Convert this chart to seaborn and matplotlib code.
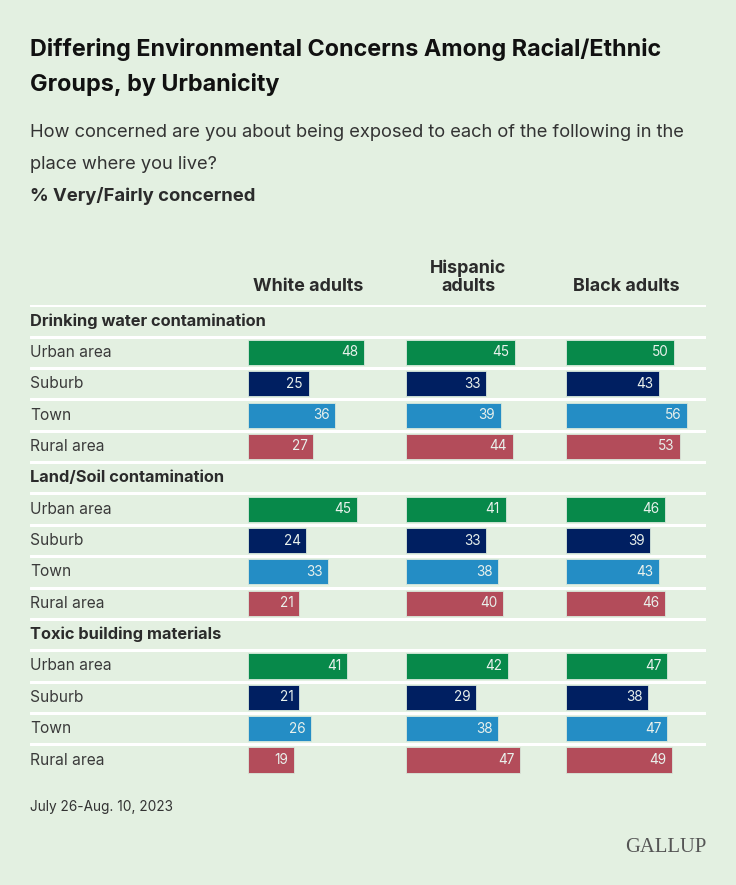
import matplotlib.pyplot as plt
import pandas as pd
import seaborn as sns

# Data
groups = ["White adults", "Hispanic\nadults", "Black adults"]
topics = ["Drinking water contamination", "Land/Soil contamination", "Toxic building materials"]
areas = ["Urban area", "Suburb", "Town", "Rural area"]

# values listed topic by topic, in area order
white = [48, 25, 36, 27, 45, 24, 33, 21, 41, 21, 26, 19]
hispanic = [45, 33, 39, 44, 41, 33, 38, 40, 42, 29, 38, 47]
black = [50, 43, 56, 53, 46, 39, 43, 46, 47, 38, 47, 49]

BG = "#e3f0e1"
palette = {"Urban area": "#07894a", "Suburb": "#001f61", "Town": "#248dc5", "Rural area": "#b34c5a"}

W, H = 736, 885


def fx(x):
    return x / W


def fy(y):
    return 1 - y / H


# row order: a header row for each topic, then its four areas
order = []
records = []
for t_i, topic in enumerate(topics):
    order.append(topic)
    for a_i, area in enumerate(areas):
        key = f"{topic}|{area}"
        order.append(key)
        k = t_i * 4 + a_i
        for grp, vals in zip(groups, [white, hispanic, black]):
            records.append({"row": key, "area": area, "group": grp, "value": vals[k]})
df = pd.DataFrame(records)

sns.set_style("white")
plt.rcParams["font.family"] = ["Inter", "DejaVu Sans"]

fig = plt.figure(figsize=(W / 100, H / 100), dpi=100, facecolor=BG)

n_rows = len(order)
row_h = 31.36
top_px = 321 - row_h / 2
bot_px = top_px + n_rows * row_h
ax_bottom = fy(bot_px)
ax_height = (bot_px - top_px) / H

# background axis: separators, row labels
bg = fig.add_axes([fx(30), ax_bottom, fx(676), ax_height])
bg.set_xlim(0, 1)
bg.set_ylim(n_rows - 0.5, -0.5)
bg.axis("off")
for i in range(n_rows):
    bg.axhline(i - 0.5, color="white", lw=2.2, zorder=0)
for i, key in enumerate(order):
    if key in topics:
        bg.text(0, i, key, ha="left", va="center", fontsize=11.8, fontweight="bold", color="#2b2b2b")
    else:
        bg.text(0, i, key.split("|")[1], ha="left", va="center", fontsize=11.2, color="#3a3a3a")

# one bar axis per group
lefts = [248.3, 406.3, 565.7]
scales = [2.41, 2.42, 2.16]  # px per percentage point
centers = [308.5, 468, 626]
col_w = 130
for grp, left, sc, cx in zip(groups, lefts, scales, centers):
    ax = fig.add_axes([fx(left), ax_bottom, fx(col_w), ax_height])
    sns.barplot(
        data=df[df["group"] == grp], x="value", y="row", hue="area",
        order=order, hue_order=areas, palette=palette, orient="h",
        dodge=False, saturation=1, width=0.8, legend=False,
        edgecolor="#d8e9dc", linewidth=0.6, ax=ax,
    )
    ax.set_xlim(0, col_w / sc)
    ax.set_ylim(n_rows - 0.5, -0.5)
    ax.axis("off")
    for cont in ax.containers:
        texts = ax.bar_label(cont, fmt="%g", padding=-4, color="#e9f1ec", fontsize=9.8)
        for t in texts:
            t.set_ha("right")
    fig.text(fx(cx), fy(295), grp, ha="center", va="bottom", fontsize=12.9,
             fontweight="bold", color="#2b2b2b", linespacing=1.05)

# titles
fig.text(fx(30), fy(56), "Differing Environmental Concerns Among Racial/Ethnic", fontsize=16.8,
         fontweight="bold", color="#111111", va="baseline")
fig.text(fx(30), fy(91), "Groups, by Urbanicity", fontsize=16.8,
         fontweight="bold", color="#111111", va="baseline")
fig.text(fx(30), fy(137), "How concerned are you about being exposed to each of the following in the",
         fontsize=13.2, color="#333333", va="baseline")
fig.text(fx(30), fy(169), "place where you live?", fontsize=13.2, color="#333333", va="baseline")
fig.text(fx(30), fy(201), "% Very/Fairly concerned", fontsize=13.3, fontweight="bold",
         color="#2b2b2b", va="baseline")

# footer
fig.text(fx(30), fy(811), "July 26-Aug. 10, 2023", fontsize=9.85, color="#333333", va="baseline")
fig.text(fx(706), fy(852), "GALLUP", fontsize=14.9, family="Liberation Serif", color="#555555",
         ha="right", va="baseline")

fig.savefig("out.png", dpi=100, facecolor=BG)
